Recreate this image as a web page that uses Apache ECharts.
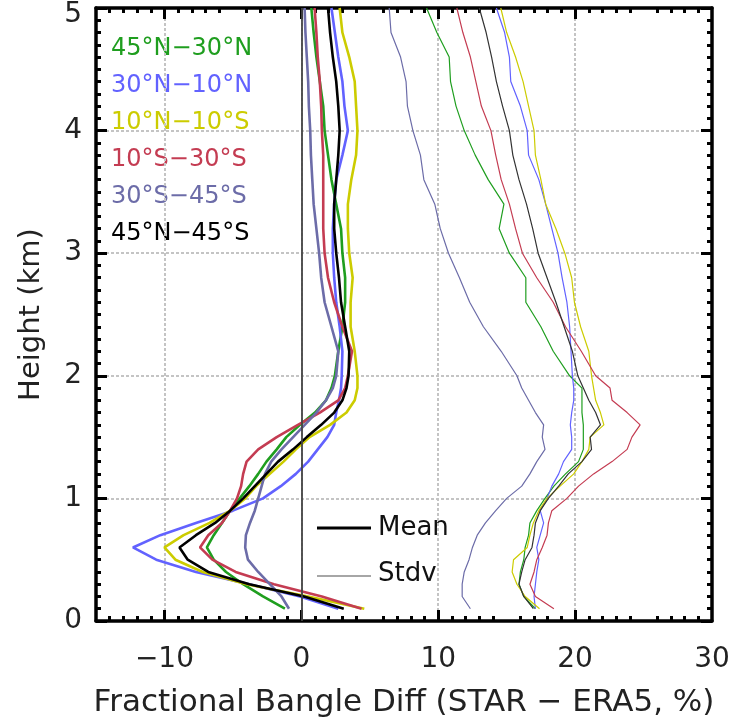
<!DOCTYPE html>
<html>
<head>
<meta charset="utf-8">
<script src="https://cdn.jsdelivr.net/npm/echarts@6/dist/echarts.min.js"></script>
<style>
html,body{margin:0;padding:0;background:#fff;}
#chart{width:735px;height:723px;}
</style>
</head>
<body>
<div id="chart"></div>
<script>
// Heights (km)
const HEIGHTS = [0.1,0.2,0.3,0.4,0.5,0.6,0.7,0.8,0.9,1.0,1.1,1.2,1.3,1.4,1.5,1.6,1.7,1.8,1.9,2.0,
                 2.2,2.4,2.6,2.8,3.0,3.2,3.4,3.6,3.8,4.0,4.2,4.4,4.6,4.8,5.0];

// Region labels
const REGIONS = ['45°N−30°N','30°N−10°N','10°N−10°S','10°S−30°S','30°S−45°S','45°N−45°S'];
const COLORS  = ['#1f9e1f','#6262ff','#cccc00','#c43c52','#6c6ca8','#000000'];
const STDV_COLORS = ['#1f9e1f','#6262ff','#cccc00','#c43c52','#6c6ca8','#333333'];

// Mean fractional bending-angle difference (%)
const mean4530N = [-1.2,-2.8,-4.25,-5.5,-6.4,-6.9,-6.4,-5.8,-5.2,-4.5,-3.8,-3.15,-2.55,-1.8,-1.1,-0.1,1.0,1.8,2.2,2.45,
                   2.7,3.0,3.2,3.2,3.0,2.9,2.55,2.2,1.95,1.7,1.6,1.35,1.1,0.9,0.73];
const mean3010N = [2.7,-0.1,-3.8,-7.7,-10.6,-12.3,-10.3,-7.7,-5.0,-2.8,-1.5,-0.4,0.5,1.2,1.9,2.4,2.55,2.75,2.9,2.95,
                   3.0,2.8,2.55,2.4,2.3,2.3,2.4,2.55,3.0,3.4,3.15,3.0,2.7,2.45,2.2];
const mean1010  = [4.6,0.5,-4.0,-7.2,-9.2,-10.0,-8.6,-6.7,-5.2,-4.1,-3.3,-2.3,-1.3,-0.4,0.6,2.1,3.3,3.9,4.1,4.1,
                   3.9,3.6,3.6,3.75,3.5,3.4,3.4,3.65,4.0,4.1,4.0,3.9,3.5,3.0,2.8];
const mean1030S = [4.4,1.5,-2.0,-4.8,-6.5,-7.4,-6.8,-5.8,-5.2,-4.7,-4.4,-4.25,-4.0,-3.15,-1.8,-0.25,1.35,2.7,3.2,3.4,
                   3.7,3.0,2.4,1.95,1.7,1.6,1.6,1.6,1.6,1.5,1.45,1.35,1.2,1.1,0.97];
const mean3045S = [-0.9,-1.45,-2.3,-3.15,-3.9,-4.1,-4.05,-3.75,-3.4,-3.15,-2.9,-2.65,-2.2,-1.45,-0.6,0.25,1.1,1.8,2.3,2.55,
                   2.7,2.2,1.7,1.45,1.3,1.1,0.9,0.8,0.7,0.65,0.55,0.5,0.4,0.3,0.24];
const mean4545  = [3.1,0.2,-3.8,-6.8,-8.3,-8.9,-7.7,-6.3,-5.2,-4.25,-3.4,-2.55,-1.7,-0.6,0.4,1.45,2.4,3.0,3.3,3.45,
                   3.5,3.2,2.9,2.75,2.55,2.4,2.4,2.55,2.7,2.8,2.7,2.55,2.3,2.1,1.95];

// Standard deviation (%)
const stdv4530N = [17.1,16.25,15.9,16.0,16.25,16.35,16.6,16.7,17.2,17.8,18.45,19.3,20.25,20.6,20.6,20.6,20.5,20.5,20.5,19.6,
                   18.4,17.5,16.4,16.4,15.2,14.45,14.8,13.65,12.7,11.9,11.3,10.9,10.8,9.9,9.15];
const stdv3010N = [17.1,17.0,17.1,17.2,17.35,17.2,17.45,17.7,17.45,17.95,18.3,18.8,19.15,19.75,19.75,19.65,19.75,19.9,19.9,19.8,
                   19.7,19.6,19.4,19.05,18.75,18.3,17.85,17.35,16.6,16.5,16.0,15.3,15.2,14.85,14.25];
const stdv1010  = [17.4,16.35,15.75,15.4,15.5,16.5,16.7,16.95,17.35,17.95,18.9,19.9,20.5,21.0,21.1,22.1,21.85,21.5,21.35,21.2,
                   21.0,20.4,19.95,19.75,19.25,18.6,17.85,17.5,17.1,17.0,16.6,16.2,15.65,15.0,14.57];
const stdv1030S = [18.45,17.1,16.7,17.0,17.2,17.6,17.95,18.05,18.3,19.4,20.25,21.35,22.7,23.8,24.15,24.75,23.8,22.7,22.55,21.5,
                   20.45,19.3,18.4,17.2,16.15,15.65,15.2,14.6,14.2,13.85,13.15,12.75,12.35,11.8,11.36];
const stdv3045S = [12.35,11.75,11.75,11.9,12.25,12.5,12.85,13.45,14.2,15.0,16.1,16.7,17.2,17.8,17.6,17.7,17.1,16.6,16.1,15.75,
                   14.6,13.3,12.3,11.55,10.75,10.15,9.75,8.95,8.7,8.15,7.75,7.65,7.25,6.55,6.42];
const stdv4545  = [16.95,16.25,15.9,16.1,16.35,16.85,17.0,17.1,17.45,18.05,18.8,19.5,20.5,21.2,21.1,21.85,21.5,21.0,20.6,20.2,
                   19.8,19.2,18.6,17.95,17.3,16.9,16.45,15.9,15.45,15.2,14.7,14.25,13.9,13.5,13.0];

const MEANS = [mean4530N, mean3010N, mean1010, mean1030S, mean3045S, mean4545];
const STDVS = [stdv4530N, stdv3010N, stdv1010, stdv1030S, stdv3045S, stdv4545];

// Axis ticks
const X_MAJOR = [-10, 0, 10, 20];
const X_LABELS = [-10, 0, 10, 20, 30];
const X_TITLE = 'Fractional Bangle Diff (STAR − ERA5, %)';
const Y_TITLE = 'Height (km)';

const FONT = 'DejaVu Sans';
const pairs = xs => xs.map((x, i) => [x, HEIGHTS[i]]);

const chart = echarts.init(document.getElementById('chart'), null, {renderer: 'canvas'});

const frameLine = {show: true, onZero: false, lineStyle: {color: '#000', width: 3.5}};
const gridDots = {show: true, lineStyle: {color: '#c4c4c4', width: 2, type: [3, 2]}};

function xAxisDef(pos, labels) {
  return {
    type: 'value', position: pos, min: -15, max: 30, interval: 5,
    axisLine: frameLine,
    axisTick: {show: true, inside: true, length: 11, customValues: X_MAJOR, lineStyle: {color: '#000', width: 3}},
    minorTick: {show: true, splitNumber: 5, length: 5, lineStyle: {color: '#000', width: 3}},
    axisLabel: labels ? {show: true, customValues: X_LABELS, margin: 25, color: '#222',
      fontFamily: FONT, fontSize: 28, formatter: v => (v < 0 ? '−' + Math.abs(v) : String(v))} : {show: false},
    splitLine: pos === 'bottom' ? gridDots : {show: false},
    name: labels ? X_TITLE : '', nameLocation: 'middle', nameGap: 66,
    nameTextStyle: {fontFamily: FONT, fontSize: 31, color: '#222'}
  };
}
function yAxisDef(pos, labels) {
  return {
    type: 'value', position: pos, min: 0, max: 5, interval: 1,
    axisLine: frameLine,
    axisTick: {show: true, inside: true, length: 11, lineStyle: {color: '#000', width: 3}},
    minorTick: {show: true, splitNumber: 10, length: 5, lineStyle: {color: '#000', width: 3}},
    axisLabel: labels ? {show: true, margin: 14, color: '#222', fontFamily: FONT, fontSize: 28,
      formatter: v => (v === 5 ? '{lo|5}' : String(v)),
      rich: {lo: {fontFamily: FONT, fontSize: 28, color: '#222', padding: [14, 0, 0, 0]}}} : {show: false},
    splitLine: pos === 'left' ? gridDots : {show: false},
    name: labels ? Y_TITLE : '', nameLocation: 'middle', nameGap: 50, nameRotate: 90,
    nameTextStyle: {fontFamily: FONT, fontSize: 29, color: '#222'}
  };
}

const series = [];
series.push({
  type: 'line', data: [], xAxisIndex: 0, yAxisIndex: 0, z: 1,
  markLine: {symbol: 'none', silent: true, label: {show: false},
    lineStyle: {color: '#444', width: 1.8, type: 'solid'}, data: [{xAxis: 0}]}
});
STDVS.forEach((s, i) => series.push({
  type: 'line', name: REGIONS[i] + ' stdv', data: pairs(s), showSymbol: false, symbol: 'none',
  xAxisIndex: 0, yAxisIndex: 0, z: 3,
  lineStyle: {color: STDV_COLORS[i], width: 1.2}
}));
MEANS.forEach((s, i) => series.push({
  type: 'line', name: REGIONS[i] + ' mean', data: pairs(s), showSymbol: false, symbol: 'none',
  xAxisIndex: 0, yAxisIndex: 0, z: 4,
  lineStyle: {color: COLORS[i], width: 2.6}
}));

const graphics = REGIONS.map((r, i) => ({
  type: 'text', left: 111, top: 49.5 + 37 * i - 13,
  style: {text: r, fill: COLORS[i], font: '24px "DejaVu Sans"'}
}));
graphics.push(
  {type: 'line', shape: {x1: 317, y1: 528, x2: 371, y2: 528}, style: {stroke: '#000', lineWidth: 3}},
  {type: 'text', left: 378, top: 515, style: {text: 'Mean', fill: '#111', font: '26px "DejaVu Sans"'}},
  {type: 'line', shape: {x1: 317, y1: 576, x2: 371, y2: 576}, style: {stroke: '#888', lineWidth: 1.6}},
  {type: 'text', left: 378, top: 561, style: {text: 'Stdv', fill: '#111', font: '26px "DejaVu Sans"'}}
);

chart.setOption({
  animation: false,
  backgroundColor: '#fff',
  grid: {left: 96, right: 23, top: 8, bottom: 98, containLabel: false},
  xAxis: [xAxisDef('bottom', true), xAxisDef('top', false)],
  yAxis: [yAxisDef('left', true), yAxisDef('right', false)],
  series: series,
  graphic: graphics
});
</script>
</body>
</html>
